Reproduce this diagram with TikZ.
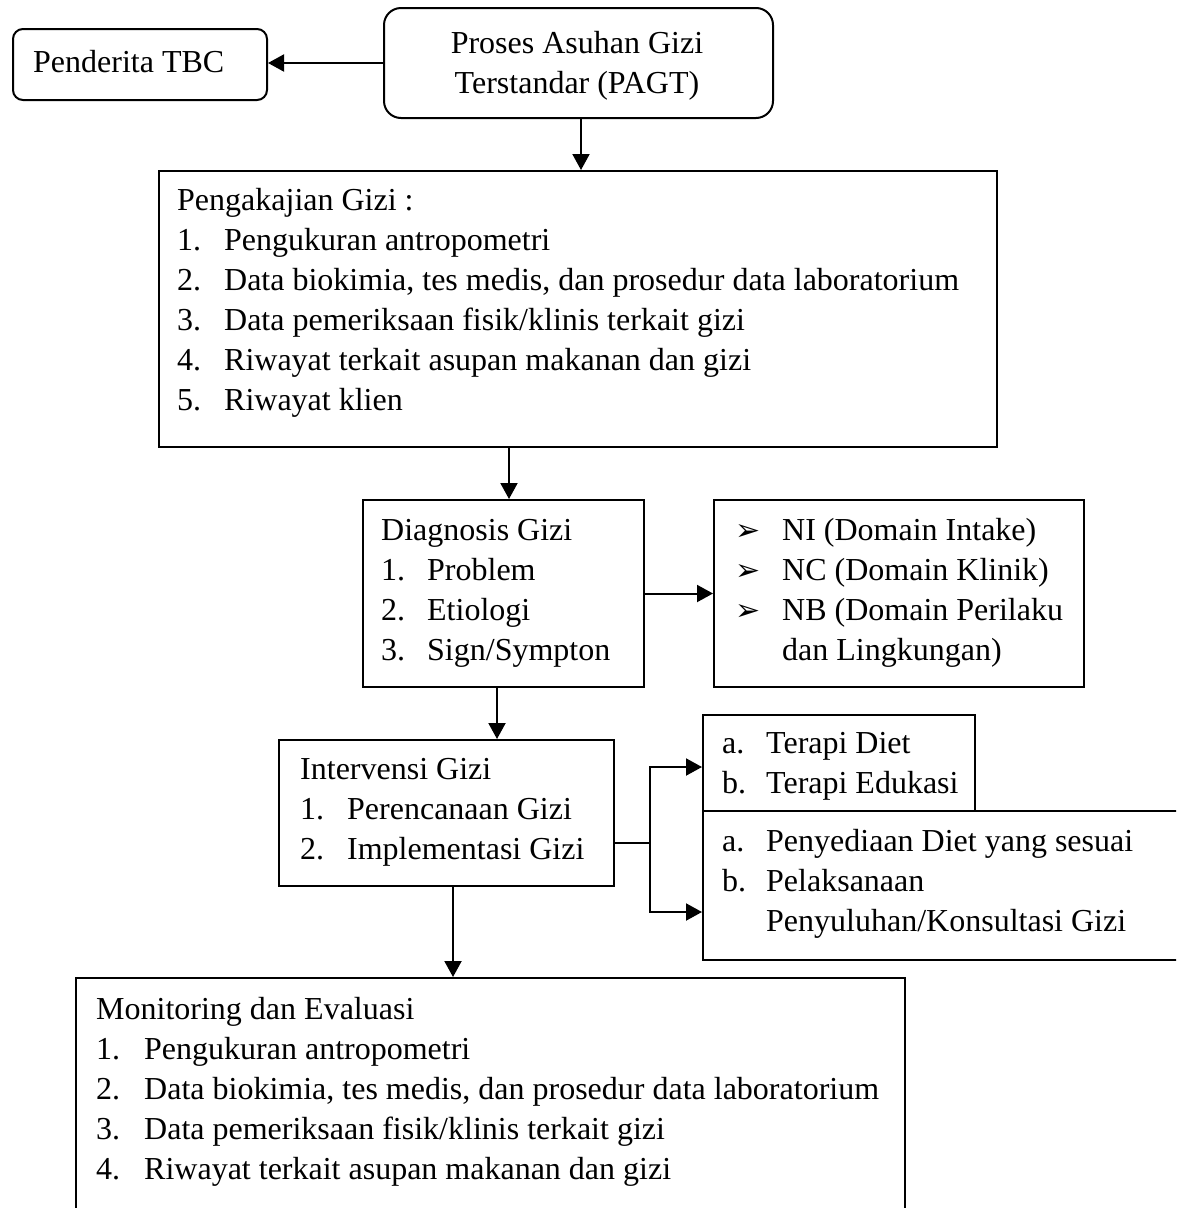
\documentclass[tikz,border=0pt]{standalone}
\usepackage{fontspec}
\setmainfont{Liberation Serif}
\newfontfamily\dvfont{DejaVu Sans}
\usetikzlibrary{arrows.meta}
\newcommand\numit[2]{\makebox[#1][l]{#2}}
\newcommand\bul{{\dvfont\fontsize{30}{30}\selectfont ➢}}
\begin{document}
\begin{tikzpicture}[x=1pt,y=-1pt,
  box/.style={draw, line width=2pt, inner sep=0pt, anchor=north west},
  rbox/.style={box, rounded corners=#1},
  conn/.style={line width=2pt},
  arr/.style={line width=2pt, -{Triangle[length=16pt,width=17pt]}},
  txt/.style={inner sep=0pt, anchor=base west, font=\fontsize{32}{40}\selectfont},
]
\useasboundingbox (0,0) rectangle (1176,1208);
\clip (0,0) rectangle (1176,1208);

% boxes
\node[rbox=10pt, minimum width=254pt, minimum height=71pt] (pend) at (12,28) {};
\node[rbox=17pt, minimum width=389pt, minimum height=110pt] (pagt) at (383,7) {};
\node[box, minimum width=838pt, minimum height=276pt] (peng) at (158,170) {};
\node[box, minimum width=281pt, minimum height=187pt] (diag) at (362,499) {};
\node[box, minimum width=370pt, minimum height=187pt] (ni) at (713,499) {};
\node[box, minimum width=335pt, minimum height=146pt] (interv) at (278,739) {};
\node[box, minimum width=272pt, minimum height=96pt] (ter) at (702,714) {};
\node[box, minimum width=500pt, minimum height=149pt] (peny) at (702,810) {};
\node[box, minimum width=829pt, minimum height=260pt] (mon) at (75,977) {};

% texts
\node[txt] (pendT) at (33,72.7) {Penderita TBC};
\node[txt, anchor=base] (pagtT) at (577,53.3) {\begin{tabular}[t]{@{}c@{}}Proses Asuhan Gizi\\Terstandar (PAGT)\end{tabular}};
\node[txt] (pengT) at (177,210) {\begin{tabular}[t]{@{}l@{}}
Pengakajian Gizi :\\
\numit{47pt}{1.}Pengukuran antropometri\\
\numit{47pt}{2.}Data biokimia, tes medis, dan prosedur data laboratorium\\
\numit{47pt}{3.}Data pemeriksaan fisik/klinis terkait gizi\\
\numit{47pt}{4.}Riwayat terkait asupan makanan dan gizi\\
\numit{47pt}{5.}Riwayat klien
\end{tabular}};
\node[txt] (diagT) at (381,540) {\begin{tabular}[t]{@{}l@{}}
Diagnosis Gizi\\
\numit{46pt}{1.}Problem\\
\numit{46pt}{2.}Etiologi\\
\numit{46pt}{3.}Sign/Sympton
\end{tabular}};
\node[txt] (niT) at (735,540) {\begin{tabular}[t]{@{}l@{}}
\numit{47pt}{\bul}NI (Domain Intake)\\
\numit{47pt}{\bul}NC (Domain Klinik)\\
\numit{47pt}{\bul}NB (Domain Perilaku\\
\numit{47pt}{}dan Lingkungan)
\end{tabular}};
\node[txt] (intervT) at (300,779.3) {\begin{tabular}[t]{@{}l@{}}
Intervensi Gizi\\
\numit{47pt}{1.}Perencanaan Gizi\\
\numit{47pt}{2.}Implementasi Gizi
\end{tabular}};
\node[txt] (terT) at (722,753.3) {\begin{tabular}[t]{@{}l@{}}
\numit{44pt}{a.}Terapi Diet\\
\numit{44pt}{b.}Terapi Edukasi
\end{tabular}};
\node[txt] (penyT) at (722,851) {\begin{tabular}[t]{@{}l@{}}
\numit{44pt}{a.}Penyediaan Diet yang sesuai\\
\numit{44pt}{b.}Pelaksanaan\\
\numit{44pt}{}Penyuluhan/Konsultasi Gizi
\end{tabular}};
\node[txt] (monT) at (96,1019.3) {\begin{tabular}[t]{@{}l@{}}
Monitoring dan Evaluasi\\
\numit{48pt}{1.}Pengukuran antropometri\\
\numit{48pt}{2.}Data biokimia, tes medis, dan prosedur data laboratorium\\
\numit{48pt}{3.}Data pemeriksaan fisik/klinis terkait gizi\\
\numit{48pt}{4.}Riwayat terkait asupan makanan dan gizi
\end{tabular}};

% connectors
\draw[arr] (pagt.west) -- (pagt.west -| pend.east);
\draw[arr] ([xshift=2.5pt]pagt.south) -- ([xshift=2.5pt]pagt.south |- peng.north);
\draw[arr] ([xshift=-69pt]peng.south) -- ([xshift=-69pt]peng.south |- diag.north);
\draw[arr] (diag.east) -- (diag.east -| ni.west);
\draw[arr] ([xshift=-6.5pt]diag.south) -- ([xshift=-6.5pt]diag.south |- interv.north);
\draw[arr] ([xshift=6.5pt]interv.south) -- ([xshift=6.5pt]interv.south |- mon.north);
\coordinate (br) at ([xshift=35pt,yshift=-30pt]interv.east);
\draw[conn] ([yshift=-30pt]interv.east) -- (br);
\draw[arr] (br) |- ([yshift=-4pt]ter.west);
\draw[arr] (br) |- ([yshift=-26.5pt]peny.west);
\end{tikzpicture}
\end{document}
